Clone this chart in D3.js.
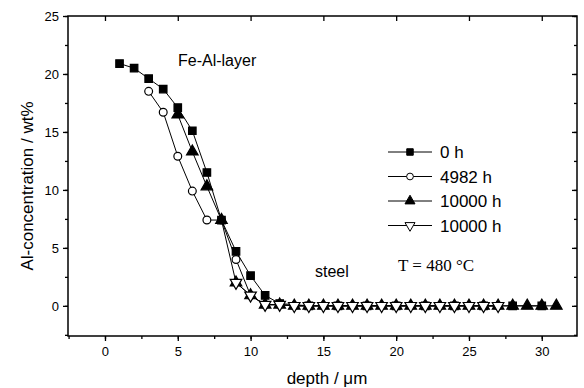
<!DOCTYPE html>
<html>
<head>
<meta charset="utf-8">
<script src="https://d3js.org/d3.v7.min.js"></script>
<style>
  body { margin: 0; background: #fff; }
  text { font-family: "Liberation Sans", Arial, sans-serif; fill: #000; }
</style>
</head>
<body>
<div id="graphHolder"></div>
<script>
// 0 h (filled squares)
var depth0 = [1, 2, 3, 4, 5, 6, 7, 8, 9, 10, 11, 12, 14, 16, 18, 20, 22, 24, 26, 28, 30];
var conc0 = [20.9, 20.5, 19.6, 18.7, 17.1, 15.1, 11.5, 7.4, 4.7, 2.6, 0.9, 0.2, 0, 0, 0, 0, 0, 0, 0, 0, 0];
// 4982 h (open circles)
var depth1 = [3, 4, 5, 6, 7, 8, 9, 10, 11, 12, 13, 14, 15, 16, 17, 18, 19, 20, 21, 22, 23, 24, 25, 26, 27];
var conc1 = [18.5, 16.7, 12.9, 9.9, 7.4, 7.4, 4.0, 0.9, 0.1, 0.1, 0, 0, 0, 0, 0, 0, 0, 0, 0, 0, 0, 0, 0, 0, 0];
// 10000 h (filled triangles)
var depth2 = [5, 6, 7, 8, 9, 10, 11, 12, 13, 14, 15, 16, 17, 18, 19, 20, 21, 22, 23, 24, 25, 26, 27, 28, 29, 30, 31];
var conc2 = [16.5, 13.3, 10.3, 7.4, 2.0, 0.9, 0.1, 0.1, 0, 0, 0, 0, 0, 0, 0, 0, 0, 0, 0, 0, 0, 0, 0, 0, 0, 0, 0];
// 10000 h (open down triangles)
var depth3 = [9, 10, 11, 12, 13, 14, 15, 16, 17, 18, 19, 20, 21, 22, 23, 24, 25, 26, 27];
var conc3 = [2.0, 0.9, 0.1, 0.1, 0, 0, 0, 0, 0, 0, 0, 0, 0, 0, 0, 0, 0, 0, 0];

var seriesNames = ["0 h", "4982 h", "10000 h", "10000 h"];
var xTicks = [0, 5, 10, 15, 20, 25, 30];
var yTicks = [0, 5, 10, 15, 20, 25];

var graphWidth = 584, graphHeight = 388;
var pLeft = 68, pRight = 577, pTop = 16, pBottom = 336;

var svg = d3.select("#graphHolder")
        .append("svg")
        .attr("width", graphWidth)
        .attr("height", graphHeight);

var x = d3.scaleLinear().domain([-2.54, 32.42]).range([pLeft, pRight]);
var y = d3.scaleLinear().domain([-2.6, 25]).range([pBottom, pTop]);

var xMinor = d3.range(-2.5, 32.5, 2.5);
var yMinor = d3.range(-2.5, 25.1, 2.5);

function noDomain(g) { g.select(".domain").remove(); }

// axes: bottom & left outward, top & right inward
svg.append("g")
        .attr("transform", "translate(0," + pBottom + ")")
        .call(d3.axisBottom(x).tickValues(xMinor).tickSize(3).tickFormat(""))
        .call(noDomain);
svg.append("g")
        .attr("class", "lab")
        .attr("transform", "translate(0," + pBottom + ")")
        .call(d3.axisBottom(x).tickValues(xTicks).tickSize(5).tickPadding(6).tickFormat(d3.format("d")))
        .call(noDomain);

svg.append("g")
        .attr("transform", "translate(" + pLeft + ",0)")
        .call(d3.axisLeft(y).tickValues(yMinor).tickSize(3).tickFormat(""))
        .call(noDomain);
svg.append("g")
        .attr("class", "lab")
        .attr("transform", "translate(" + pLeft + ",0)")
        .call(d3.axisLeft(y).tickValues(yTicks).tickSize(5).tickPadding(4).tickFormat(d3.format("d")))
        .call(noDomain);

svg.append("g")
        .attr("transform", "translate(0," + pTop + ")")
        .call(d3.axisBottom(x).tickValues(xTicks).tickSize(5).tickFormat(""))
        .call(noDomain);
svg.append("g")
        .attr("transform", "translate(" + pRight + ",0)")
        .call(d3.axisLeft(y).tickValues(yTicks).tickSize(5).tickFormat(""))
        .call(noDomain);
svg.append("g")
        .attr("transform", "translate(" + pRight + ",0)")
        .call(d3.axisLeft(y).tickValues(yMinor).tickSize(3).tickFormat(""))
        .call(noDomain);

svg.selectAll(".lab").attr("font-size", 13).attr("font-family", "Liberation Sans, Arial, sans-serif");
svg.selectAll(".tick line").attr("stroke", "#000").attr("stroke-width", 1.3);

svg.append("rect")
        .attr("x", pLeft).attr("y", pTop)
        .attr("width", pRight - pLeft).attr("height", pBottom - pTop)
        .attr("fill", "none").attr("stroke", "#000").attr("stroke-width", 1.5);

// axis titles
svg.append("text")
        .attr("transform", "translate(33,186) rotate(-90)")
        .attr("text-anchor", "middle")
        .style("font-size", "17px")
        .text("Al-concentration / wt%");
svg.append("text")
        .attr("x", 327).attr("y", 384)
        .attr("text-anchor", "middle")
        .style("font-size", "17px")
        .text("depth / \u03bcm");

// series
var sym = [d3.symbolSquare, d3.symbolCircle, d3.symbolTriangle, d3.symbolTriangle];
var symSize = [56, 48, 58, 58];
var fills = ["#000", "#fff", "#000", "#fff"];
var rot = [0, 0, 0, 180];

var allSeries = [
    {xs: depth0, ys: conc0},
    {xs: depth1, ys: conc1},
    {xs: depth2, ys: conc2},
    {xs: depth3, ys: conc3}
];

var line = d3.line()
        .x(function (d) { return x(d[0]); })
        .y(function (d) { return y(d[1]); });

allSeries.forEach(function (s) {
    svg.append("path")
            .datum(d3.zip(s.xs, s.ys))
            .attr("fill", "none")
            .attr("stroke", "#000")
            .attr("stroke-width", 1)
            .attr("d", line);
});

allSeries.forEach(function (s, i) {
    svg.append("g").selectAll("path")
            .data(d3.zip(s.xs, s.ys))
            .enter().append("path")
            .attr("transform", function (d) {
                return "translate(" + x(d[0]) + "," + y(d[1]) + ") rotate(" + rot[i] + ")";
            })
            .attr("d", d3.symbol().type(sym[i]).size(symSize[i]))
            .attr("fill", fills[i])
            .attr("stroke", "#000")
            .attr("stroke-width", 1.2);
});

// legend
var legend = svg.append("g");
seriesNames.forEach(function (name, i) {
    var ly = 152 + i * 24.5;
    legend.append("line")
            .attr("x1", 388).attr("x2", 432)
            .attr("y1", ly).attr("y2", ly)
            .attr("stroke", "#000").attr("stroke-width", 1);
    legend.append("path")
            .attr("transform", "translate(410," + ly + ") rotate(" + rot[i] + ")")
            .attr("d", d3.symbol().type(sym[i]).size(symSize[i] * 0.75))
            .attr("fill", fills[i])
            .attr("stroke", "#000")
            .attr("stroke-width", 1);
    legend.append("text")
            .attr("x", 440).attr("y", ly + 6)
            .style("font-size", "17px")
            .text(name);
});

// annotations
svg.append("text")
        .attr("x", 178).attr("y", 66)
        .style("font-size", "16px")
        .text("Fe-Al-layer");
svg.append("text")
        .attr("x", 315).attr("y", 277)
        .style("font-size", "16px")
        .text("steel");
svg.append("text")
        .attr("x", 398).attr("y", 271)
        .style("font-family", "'Liberation Serif', 'Times New Roman', serif")
        .style("font-size", "17px")
        .text("T = 480 \u00b0C");
</script>
</body>
</html>
